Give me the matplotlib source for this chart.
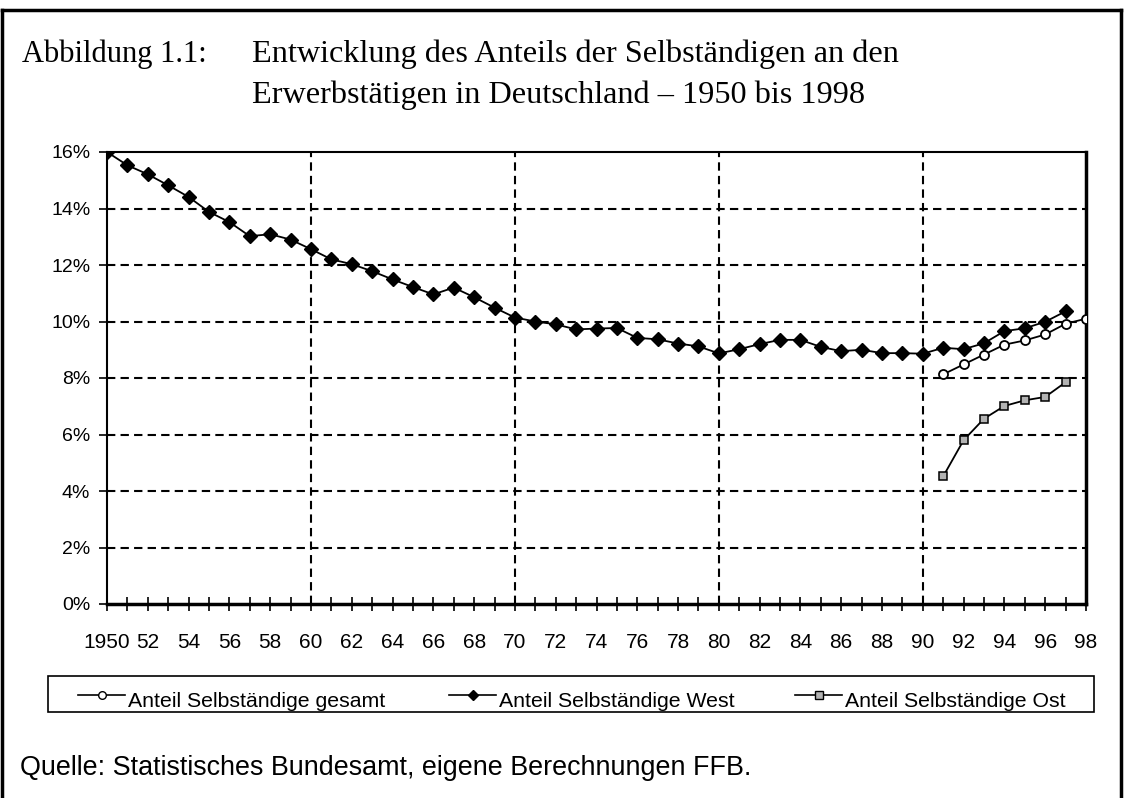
import matplotlib
matplotlib.use("Agg")
import matplotlib.pyplot as plt
from matplotlib.lines import Line2D
from matplotlib.patches import Rectangle
from matplotlib.ticker import MultipleLocator, FuncFormatter
import matplotlib.transforms as mtransforms

# Daten
jahre_west = list(range(1950, 1998))
west = [16.0, 15.53, 15.21, 14.82, 14.41, 13.88, 13.52, 13.02, 13.09, 12.9,
        12.56, 12.2, 12.03, 11.78, 11.49, 11.22, 10.96, 11.2, 10.86, 10.49,
        10.14, 10.0, 9.9, 9.72, 9.75, 9.77, 9.42, 9.37, 9.22, 9.12,
        8.87, 9.02, 9.2, 9.35, 9.35, 9.1, 8.95, 9.0, 8.88, 8.88,
        8.86, 9.07, 9.02, 9.23, 9.66, 9.76, 9.99, 10.36]

jahre_gesamt = [1991, 1992, 1993, 1994, 1995, 1996, 1997, 1998]
gesamt = [8.13, 8.48, 8.83, 9.18, 9.33, 9.54, 9.92, 10.1]

jahre_ost = [1991, 1992, 1993, 1994, 1995, 1996, 1997]
ost = [4.52, 5.8, 6.56, 7.01, 7.21, 7.33, 7.85]

labels = ["Anteil Selbständige gesamt", "Anteil Selbständige West", "Anteil Selbständige Ost"]
marker_styles = [("o", "white"), ("D", "black"), ("s", "#b3b3b3")]

W, H = 1127, 798
fig = plt.figure(figsize=(W / 100, H / 100), dpi=100)
tf = fig.transFigure

def fx(px):
    return px / W

def fy(py):
    return 1 - py / H

# Rahmen um die Abbildung
fig.add_artist(Line2D([fx(2), fx(2)], [0, fy(10)], color="black", lw=2.5, transform=tf))
fig.add_artist(Line2D([fx(2), fx(1121)], [fy(10), fy(10)], color="black", lw=2.5, transform=tf))
fig.add_artist(Line2D([fx(1121), fx(1121)], [0, fy(10)], color="black", lw=2.5, transform=tf))

serif = "Liberation Serif"
sans = "Liberation Sans"
fig.text(fx(22), fy(62), "Abbildung 1.1:", family=serif, fontsize=22, va="baseline")
fig.text(fx(252), fy(62), "Entwicklung des Anteils der Selbständigen an den", family=serif, fontsize=23.2, va="baseline")
fig.text(fx(252), fy(103), "Erwerbstätigen in Deutschland \u2013 1950 bis 1998", family=serif, fontsize=23.2, va="baseline")

ax = fig.add_axes([fx(107), fy(604), (1086 - 107) / W, (604 - 152) / H])

ax.plot(jahre_gesamt, gesamt, color="black", lw=1.3, marker="o", ms=6.5, mfc="white", mec="black", mew=1.3, zorder=4)
ax.plot(jahre_west, west, color="black", lw=1.3, marker="D", ms=6.8, mfc="black", mec="black", zorder=5)
ax.plot(jahre_ost, ost, color="black", lw=1.3, marker="s", ms=6.3, mfc="#b3b3b3", mec="black", mew=1.1, zorder=4)

ax.set_xlim(1950, 1998)
ax.set_ylim(0, 16)
ax.xaxis.set_major_locator(MultipleLocator(2))
ax.xaxis.set_minor_locator(MultipleLocator(1))
ax.xaxis.set_major_formatter(FuncFormatter(lambda v, p: "1950" if int(v) == 1950 else "%02d" % (int(v) % 100)))
ax.yaxis.set_major_locator(MultipleLocator(2))
ax.yaxis.set_major_formatter(FuncFormatter(lambda v, p: "%d%%" % v))

ax.tick_params(axis="x", which="both", direction="inout", length=10, width=1.2, pad=16)
ax.tick_params(axis="y", direction="out", length=6, width=1.2, pad=6)
for lab in ax.get_xticklabels():
    lab.set_family(sans)
    lab.set_fontsize(15)
for lab in ax.get_yticklabels():
    lab.set_family(sans)
    lab.set_fontsize(14)
# "1950" steht etwas links vom Teilstrich
first = ax.get_xticklabels()[0]
first.set_transform(first.get_transform() + mtransforms.ScaledTranslation(-15 / 100, 0, fig.dpi_scale_trans))

for sp in ["left", "top"]:
    ax.spines[sp].set_linewidth(1.5)
ax.spines["right"].set_linewidth(2.5)
ax.spines["bottom"].set_linewidth(2.5)

for y in [2, 4, 6, 8, 10, 12, 14]:
    ax.axhline(y, color="black", lw=1.5, ls=(0, (4, 2.5)), zorder=1)
for x in [1960, 1970, 1980, 1990]:
    ax.axvline(x, color="black", lw=1.5, ls=(0, (4, 2.5)), zorder=1)

# Legende (Text etwas tiefer als das Symbol, wie im Original)
fig.add_artist(Rectangle((fx(48), fy(712)), fx(1094) - fx(48), fy(676) - fy(712),
                         transform=tf, fill=False, edgecolor="black", lw=1.2))
legend_x = [78, 449, 795]
for (m, fc), lab, x0 in zip(marker_styles, labels, legend_x):
    fig.add_artist(Line2D([fx(x0), fx(x0 + 47)], [fy(695), fy(695)], color="black", lw=1.2, transform=tf))
    fig.add_artist(Line2D([fx(x0 + 23.5)], [fy(695)], marker=m, ms=5.5, mfc=fc, mec="black",
                          color="black", transform=tf))
    fig.text(fx(x0 + 50), fy(707), lab, family=sans, fontsize=15.3, va="baseline")

fig.text(fx(20), fy(768), "Quelle: Statistisches Bundesamt, eigene Berechnungen FFB.", family=sans, fontsize=19.4, va="center")

fig.savefig("out.png", dpi=100)
